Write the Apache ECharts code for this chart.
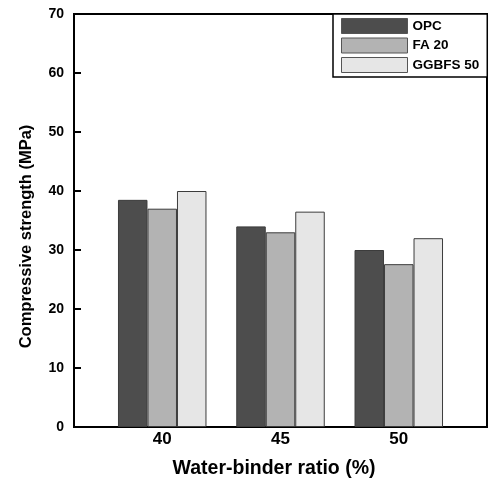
<!DOCTYPE html>
<html>
<head>
<meta charset="utf-8">
<script src="https://cdn.jsdelivr.net/npm/echarts@6/dist/echarts.min.js"></script>
<style>
  html, body { margin: 0; padding: 0; background: #fff; }
  #chart { width: 491px; height: 484px; }
</style>
</head>
<body>
<div id="chart"></div>
<script>
// Water-binder ratios (%) used as group positions on the x axis
const ratios = [40, 45, 50];
const seriesNames = ['OPC', 'FA 20', 'GGBFS 50'];
// Compressive strength (MPa) per mix
const opc = [38.5, 34, 30];
const fa20 = [37, 33, 27.6];
const ggbfs50 = [40, 36.5, 32];
const yTicks = [0, 10, 20, 30, 40, 50, 60, 70];

const fills = ['#4d4d4d', '#b3b3b3', '#e6e6e6'];
const font = 'Liberation Sans, Arial, sans-serif';

const chart = echarts.init(document.getElementById('chart'), null, { renderer: 'canvas' });

function pairs(vals) {
  return ratios.map((r, i) => [r, vals[i]]);
}

const seriesData = [opc, fa20, ggbfs50];

chart.setOption({
  animation: false,
  backgroundColor: '#fff',
  grid: {
    left: 74, right: 4, top: 14, bottom: 57,
    show: true, borderColor: '#000', borderWidth: 2, backgroundColor: 'transparent'
  },
  legend: {
    data: seriesNames,
    orient: 'vertical',
    left: 333, top: 14,
    itemWidth: 66, itemHeight: 15, itemGap: 3.5,
    padding: [4, 8, 4, 8],
    borderColor: '#000', borderWidth: 1.5,
    backgroundColor: '#fff',
    icon: 'rect',
    textStyle: { fontFamily: font, fontWeight: 'bold', fontSize: 13.5, color: '#000' },
    itemStyle: { borderColor: '#555', borderWidth: 1 }
  },
  xAxis: {
    type: 'value',
    min: 36.27, max: 53.73,
    name: 'Water-binder ratio (%)',
    nameLocation: 'middle',
    nameGap: 32,
    nameTextStyle: {
      fontFamily: font, fontWeight: 'bold', fontSize: 19.5, color: '#000',
      padding: [0, 13, 0, 0]
    },
    axisLine: { show: true, lineStyle: { color: '#000', width: 2 } },
    axisTick: { show: false },
    splitLine: { show: false },
    axisLabel: {
      customValues: ratios,
      margin: 4,
      fontFamily: font, fontWeight: 'bold', fontSize: 17, color: '#000',
      formatter: v => String(v)
    }
  },
  yAxis: {
    type: 'value',
    min: 0, max: 70, interval: 10,
    name: 'Compressive strength (MPa)',
    nameLocation: 'middle',
    nameGap: 39,
    nameTextStyle: {
      fontFamily: font, fontWeight: 'bold', fontSize: 16.5, color: '#000',
      padding: [0, 32, 0, 0]
    },
    axisLine: { show: true, lineStyle: { color: '#000', width: 2 } },
    axisTick: { show: true, inside: true, length: 7, lineStyle: { color: '#000', width: 2 } },
    splitLine: { show: false },
    axisLabel: {
      margin: 10,
      fontFamily: font, fontWeight: 'bold', fontSize: 14, color: '#000',
      formatter: v => (yTicks.includes(v) ? String(v) : '')
    }
  },
  series: seriesNames.map((name, i) => ({
    name: name,
    type: 'bar',
    data: pairs(seriesData[i]),
    barWidth: 29.5,
    barGap: '0%',
    itemStyle: { color: fills[i], borderColor: '#3c3c3c', borderWidth: 1 }
  }))
});
</script>
</body>
</html>
